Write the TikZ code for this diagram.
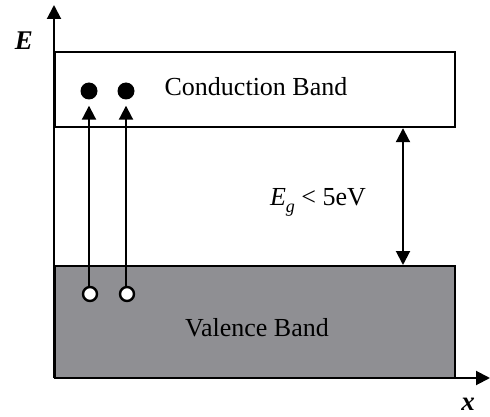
\documentclass[tikz,border=0pt]{standalone}
\usepackage{fontspec}
\setmainfont{Liberation Serif}
\usetikzlibrary{arrows.meta}
\definecolor{vbgray}{RGB}{143,143,147}
\tikzset{
  band/.style={draw, line width=2.2pt, inner sep=0pt, anchor=north west},
  lbl/.style={font=\fontsize{26}{30}\selectfont, inner sep=0pt},
  axislbl/.style={font=\fontsize{27}{30}\selectfont\bfseries\itshape, inner sep=0pt},
  electron/.style={circle, fill=black, minimum size=17pt, inner sep=0pt},
  hole/.style={circle, draw, line width=2.4pt, fill=white, minimum size=14pt, inner sep=0pt},
  arr/.style={line width=2pt, -{Triangle[length=14pt,width=14pt]}},
  darr/.style={line width=2pt, {Triangle[length=14pt,width=14pt]}-{Triangle[length=14pt,width=14pt]}}
}
\begin{document}
\begin{tikzpicture}[x=1pt,y=-1pt]
\useasboundingbox (0,0) rectangle (490,417);
% bands
\node[band, fill=white, minimum width=400pt, minimum height=75pt] (cb) at (54,51) {};
\node[band, fill=vbgray, minimum width=400pt, minimum height=112pt] (vb) at (54,265) {};
% axes
\coordinate (O) at (54,378);
\coordinate (ytop) at (54,5);
\coordinate (xend) at (490,378);
\draw[arr] (O) -- (ytop);
\draw[arr] (O) -- (xend);
\node[axislbl] (El) at (24,41) {E};
\node[axislbl] (xl) at (468,404) {x};
% labels
\node[lbl] (ct) at (256,87) {Conduction Band};
\node[lbl] (vt) at (257,328) {Valence Band};
\node[lbl] (eg) at (318,202) {\itshape E\raisebox{-7pt}{\fontsize{18}{18}\selectfont g}\upshape\ {<} 5eV};
% gap arrow
\coordinate (gx) at (403,0);
\draw[darr] (cb.south -| gx) -- (vb.north -| gx);
% electrons and holes
\node[electron] (e1) at (89,91) {};
\node[electron] (e2) at (126,91) {};
\node[hole] (h1) at (90,294) {};
\node[hole] (h2) at (127,294) {};
\draw[arr, shorten >=6pt] (h1.north -| e1) -- (e1.south);
\draw[arr, shorten >=6pt] (h2.north -| e2) -- (e2.south);
\end{tikzpicture}
\end{document}
